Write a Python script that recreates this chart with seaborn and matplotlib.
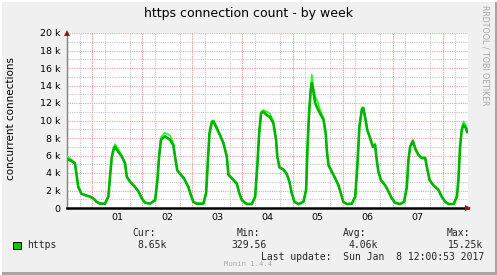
import matplotlib
matplotlib.use('Agg')
import matplotlib.pyplot as plt
from matplotlib.patches import Rectangle
from matplotlib.ticker import MultipleLocator
import seaborn as sns
import pandas as pd

# ---- data (hours since Dec 31 12:00, values in thousands of connections) ----
hours = [0, 1.9, 3.8, 4.6, 5.4, 7.0, 11.0, 12.6, 14.2, 15.8, 18.2, 19.8, 20.6, 21.4, 22.2, 23.0,
         24.6, 26.2, 27.8, 28.6, 30.2, 32.6, 34.2, 35.8, 37.4, 39.8, 42.2, 43.3, 44.1, 45.0, 46.9,
         49.3, 50.9, 51.7, 52.8, 54.1, 56.0, 58.1, 59.3, 60.5, 62.1, 65.3, 66.6, 67.4, 68.2, 69.3,
         70.1, 71.7, 73.3, 74.9, 76.5, 77.3, 78.9, 81.3, 82.5, 83.7, 86.1, 88.5, 90.1, 91.2, 92.0,
         92.9, 94.0, 95.7, 97.2, 98.8, 100.1, 100.7, 101.7, 103.6, 105.2, 106.5, 107.6, 108.9,
         110.8, 113.2, 114.5, 115.1, 115.9, 116.7, 117.2, 118.0, 118.8, 119.9, 121.2, 122.8, 123.9,
         124.4, 125.2, 126.8, 128.4, 130.0, 131.1, 132.3, 134.0, 136.4, 138.0, 139.1, 140.0, 141.2,
         141.9, 142.7, 143.8, 145.1, 146.4, 147.5, 148.3, 149.1, 150.3, 152.3, 153.9, 155.5, 157.1,
         159.5, 161.4, 162.7, 163.5, 164.3, 165.6, 166.7, 168.3, 169.9, 171.5, 172.3, 173.6, 175.4,
         177.8, 179.4, 181.1, 182.7, 185.1, 186.7, 187.4, 188.2, 189.0, 189.8, 191.1, 191.6]
avg_k = [5.6, 5.4, 5.1, 3.8, 2.4, 1.6, 1.3, 1.1, 0.7, 0.5, 0.5, 1.3, 3.6, 5.7, 6.6, 7.0,
         6.4, 5.9, 5.1, 3.6, 3.0, 2.4, 1.9, 1.1, 0.6, 0.5, 0.9, 3.2, 5.9, 7.8, 8.2,
         7.8, 7.2, 5.9, 4.3, 3.9, 3.4, 2.4, 1.5, 0.7, 0.5, 0.5, 1.7, 5.1, 8.5, 9.75,
         9.9, 9.1, 8.3, 7.4, 5.9, 3.8, 3.4, 2.8, 1.7, 0.9, 0.45, 0.45, 1.3, 5.1, 8.5,
         10.8, 11.0, 10.6, 10.4, 9.7, 7.8, 5.9, 4.65, 4.4, 3.9, 3.0, 1.7, 0.7,
         0.45, 0.7, 2.1, 6.6, 10.8, 13.5, 14.25, 13.3, 12.0, 11.4, 10.8, 10.1, 8.5,
         6.6, 4.9, 4.15, 3.4, 2.6, 1.7, 0.7, 0.45, 0.5, 1.3, 5.1, 9.3, 11.3,
         11.4, 10.4, 8.9, 8.0, 7.0, 7.2, 5.5, 4.15, 3.2, 2.6, 1.9, 1.1, 0.6,
         0.45, 0.7, 2.4, 5.5, 7.0, 7.65, 6.8, 6.05, 5.7, 5.7, 4.7, 3.2, 2.6,
         2.1, 1.3, 0.7, 0.45, 0.45, 1.3, 3.2, 7.0, 8.9, 9.5, 9.1, 8.65]
peak_k = [5.9, 5.6, 5.2, 3.8, 2.4, 1.6, 1.3, 1.1, 0.7, 0.5, 0.5, 1.3, 3.6, 5.9, 6.9, 7.3,
          6.7, 6.0, 5.1, 3.6, 3.0, 2.4, 1.9, 1.1, 0.6, 0.5, 0.9, 3.2, 6.1, 8.1, 8.6,
          8.3, 7.4, 5.9, 4.3, 3.9, 3.4, 2.4, 1.5, 0.7, 0.5, 0.5, 1.7, 5.1, 8.6, 10.0,
          10.0, 9.3, 8.4, 7.5, 5.9, 3.8, 3.4, 2.8, 1.7, 0.9, 0.45, 0.45, 1.3, 5.1, 8.6,
          11.0, 11.2, 11.0, 10.8, 9.9, 7.8, 5.9, 4.65, 4.4, 3.9, 3.0, 1.7, 0.7,
          0.45, 0.7, 2.1, 6.6, 11.0, 13.7, 15.25, 13.8, 12.8, 12.2, 11.2, 10.3, 8.5,
          6.6, 4.9, 4.15, 3.4, 2.6, 1.7, 0.7, 0.45, 0.5, 1.3, 5.1, 9.3, 11.5,
          11.5, 10.5, 9.0, 8.1, 7.1, 7.4, 5.5, 4.15, 3.2, 2.6, 1.9, 1.1, 0.6,
          0.45, 0.7, 2.4, 5.5, 7.1, 7.8, 6.9, 6.1, 5.8, 5.8, 4.7, 3.2, 2.6,
          2.1, 1.3, 0.7, 0.45, 0.45, 1.3, 3.2, 7.0, 9.1, 9.9, 9.4, 8.8]

day_labels = ['01', '02', '03', '04', '05', '06', '07']
day_label_hours = [24, 48, 72, 96, 120, 144, 168]
midnight_hours = [12, 36, 60, 84, 108, 132, 156, 180]
y_ticks = [0, 2, 4, 6, 8, 10, 12, 14, 16, 18, 20]
y_tick_labels = ['0', '2 k', '4 k', '6 k', '8 k', '10 k', '12 k', '14 k', '16 k', '18 k', '20 k']

legend_name = 'https'
stat_names = ['Cur:', 'Min:', 'Avg:', 'Max:']
stat_values = ['8.65k', '329.56', '4.06k', '15.25k']

# ---- figure ----
sns.set_theme(style='white')
plt.rcParams['font.family'] = ['DejaVu Sans']

W, H = 497, 275
fig = plt.figure(figsize=(W / 100, H / 100), dpi=100, facecolor='#F0F0F0')

def fx(px):
    return px / W

def fy(py):
    return 1 - py / H

# frame edges
fig.patches.append(Rectangle((0, 0), 1, fy(272), transform=fig.transFigure,
                             facecolor='#A6A6A6', edgecolor='none', zorder=0))
fig.patches.append(Rectangle((fx(494.5), 0), 1, 1, transform=fig.transFigure,
                             facecolor='#A6A6A6', edgecolor='none', zorder=0))
fig.patches.append(Rectangle((0, fy(1.5)), 1, 1, transform=fig.transFigure,
                             facecolor='#FFFFFF', edgecolor='none', zorder=0))
fig.patches.append(Rectangle((0, 0), fx(1.5), 1, transform=fig.transFigure,
                             facecolor='#FFFFFF', edgecolor='none', zorder=0))

ax = fig.add_axes([fx(67), fy(208), fx(401), 175 / H])
ax.set_facecolor('white')

df = pd.DataFrame({'hours': hours, 'avg': avg_k, 'peak': peak_k})
sns.lineplot(data=df, x='hours', y='peak', color='#22FF22', linewidth=1.2, ax=ax, zorder=3)
sns.lineplot(data=df, x='hours', y='avg', color='#00B400', linewidth=1.9, ax=ax, zorder=4)

ax.set_xlim(0, 192)
ax.set_ylim(0, 20)

# grids
ax.xaxis.set_minor_locator(MultipleLocator(6))
ax.yaxis.set_minor_locator(MultipleLocator(1))
ax.grid(which='minor', color='#C8C8C8', linestyle=(0, (1, 1)), linewidth=0.8, zorder=1)
for h in midnight_hours:
    ax.axvline(h, color='#EFA3A3', linestyle=(0, (1, 1)), linewidth=0.8, zorder=2)
for v in y_ticks[1:]:
    ax.axhline(v, color='#EFA3A3', linestyle=(0, (1, 1)), linewidth=0.8, zorder=2)

ax.set_xticks(day_label_hours)
ax.set_xticklabels(day_labels)
ax.set_yticks(y_ticks)
ax.set_yticklabels(y_tick_labels)
ax.tick_params(axis='both', which='both', length=0, labelsize=6.8, colors='black')
ax.tick_params(axis='y', pad=5)
ax.tick_params(axis='x', pad=3.5)
ax.set_xlabel('')
ax.set_ylabel('')

for s in ['top', 'right']:
    ax.spines[s].set_visible(False)
ax.spines['left'].set_color('#808080')
ax.spines['left'].set_linewidth(1.0)
ax.spines['bottom'].set_color('#000000')
ax.spines['bottom'].set_linewidth(1.8)
ax.spines['bottom'].set_zorder(5)

# axis arrows
ax.plot([0], [1.0], marker='^', markersize=4.5, color='#8B1A1A', transform=ax.transAxes,
        clip_on=False, zorder=6, markeredgewidth=0)
ax.plot([1.0], [0], marker='>', markersize=4.5, color='#8B1A1A', transform=ax.transAxes,
        clip_on=False, zorder=6, markeredgewidth=0)

# texts
fig.text(fx(248), fy(13), 'https connection count - by week', ha='center', va='center',
         fontsize=9.0, color='black')
fig.text(fx(11), fy(118), 'concurrent connections', rotation=90, ha='center', va='center',
         fontsize=7.5, color='black')
fig.text(fx(485.5), fy(5), 'RRDTOOL / TOBI OETIKER', rotation=-90, ha='center', va='top',
         fontsize=5.7, color='#A8A8A8')

mono = 'DejaVu Sans Mono'
fig.patches.append(Rectangle((fx(13), fy(249)), fx(8), 7 / H, transform=fig.transFigure,
                             facecolor='#00CC00', edgecolor='black', linewidth=0.7, zorder=3))
fig.text(fx(27), fy(245.5), legend_name, ha='left', va='center', fontsize=7, family=mono)
name_x = [132, 237, 343, 447]
val_right = [167, 267, 378, 483]
for nx, name in zip(name_x, stat_names):
    fig.text(fx(nx), fy(233), name, ha='left', va='center', fontsize=7, family=mono)
for vx, val in zip(val_right, stat_values):
    fig.text(fx(vx), fy(245.5), val, ha='right', va='center', fontsize=7, family=mono)
fig.text(fx(484), fy(257.5), 'Last update:  Sun Jan  8 12:00:53 2017', ha='right', va='center',
         fontsize=7, family=mono)
fig.text(fx(248), fy(264.5), 'Munin 1.4.4', ha='center', va='center', fontsize=5.2,
         family=mono, color='#ABABAB')

fig.savefig('out.png', dpi=100, facecolor=fig.get_facecolor())
